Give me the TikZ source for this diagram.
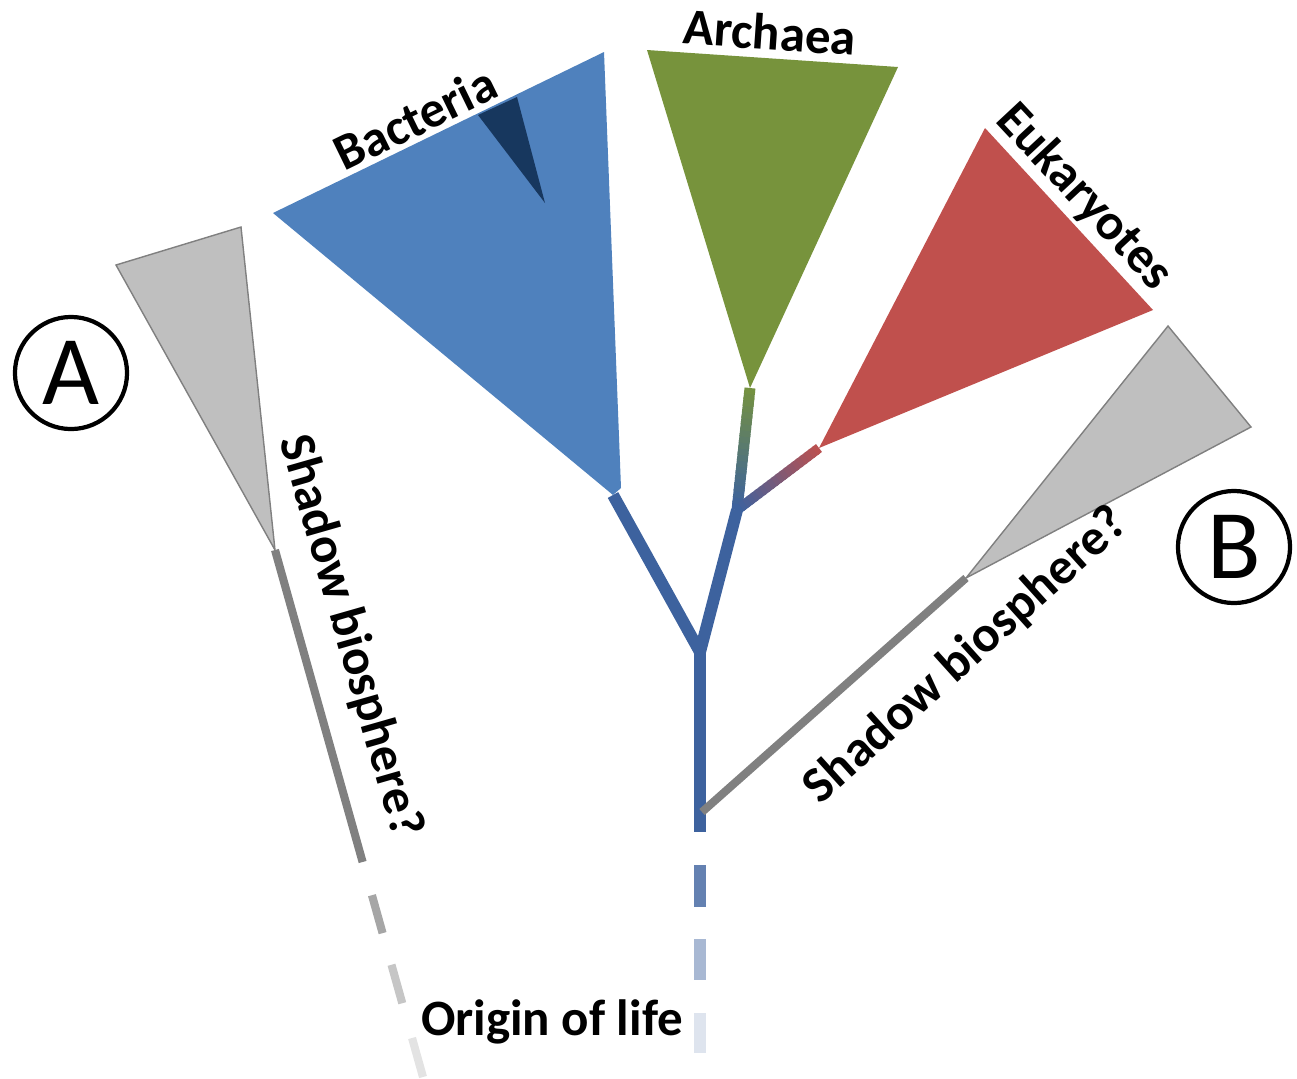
\documentclass[tikz,border=0pt]{standalone}
\usepackage{fontspec}
\setmainfont{Carlito}
\usepackage{tikz}
\usetikzlibrary{calc}

\definecolor{bactblue}{RGB}{79,129,189}
\definecolor{bactdark}{RGB}{23,55,94}
\definecolor{stemblue}{RGB}{61,98,158}
\definecolor{archgreen}{RGB}{119,147,60}
\definecolor{eukred}{RGB}{192,80,77}
\definecolor{shadowfill}{RGB}{191,191,191}
\definecolor{shadowline}{RGB}{128,128,128}

\begin{document}
\begin{tikzpicture}[x=0.01cm, y=-0.01cm]
        % Stem widths (pt)
        \pgfmathsetmacro{\stem}{3.4}
        \pgfmathsetmacro{\thin}{2.3}

        \tikzset{
            clade/.style={font=\bfseries\fontsize{14.5}{17}\selectfont},
            stemline/.style={stemblue, line width=\stem pt},
            shadowstem/.style={shadowline, line width=\thin pt},
            letter/.style={circle, draw, line width=1.2pt, minimum size=1.12cm,
            inner sep=0pt, font=\fontsize{28}{30}\selectfont},
        }

        \useasboundingbox (0,0) rectangle (1297,1078);

        % Scope with the tree points
        \begin{scope}
            \coordinate (BAC1) at (273,213);
            \coordinate (BAC2) at (604,52);
            \coordinate (BAC3) at (621,488);
            \coordinate (BACTIP) at (613,495);

            \coordinate (SUB1) at (478,115);
            \coordinate (SUB2) at (517,97);
            \coordinate (SUB3) at (545,203);

            \coordinate (ARC1) at (647,50);
            \coordinate (ARC2) at (898,67);
            \coordinate (ARCTIP) at (750,388);

            \coordinate (EUK1) at (985,128);
            \coordinate (EUK2) at (1153,310);
            \coordinate (EUKTIP) at (819,448);

            \coordinate (SPLIT) at (700,652);
            \coordinate (EUKNODE) at (737,510);
            \coordinate (ROOT) at (700,832);
            \coordinate (FOOT) at (700,1053);
            \coordinate (BFORK) at (702,812);

            \coordinate (SHA1) at (116,265);
            \coordinate (SHA2) at (241,227);
            \coordinate (SHATIP) at (275,550);
            \coordinate (SHAFOOT) at (423,1077);

            \coordinate (SHB1) at (1168,326);
            \coordinate (SHB2) at (1251,427);
            \coordinate (SHBTIP) at (966,578);
        \end{scope}

        % Blue stems
        \draw[stemline] (BACTIP) -- (SPLIT) -- (EUKNODE);
        \draw[stemline] (SPLIT) -- (ROOT);

        % Faded stem below the root
        \draw[stemblue!80!white, line width=\stem pt] (700,865) -- (700,907);
        \draw[stemblue!45!white, line width=\stem pt] (700,939) -- (700,980);
        \draw[stemblue!17!white, line width=\stem pt] (700,1013) -- (FOOT);

        % Blue to green and blue to red stems
        \foreach \i in {0,...,19} {
            \pgfmathsetmacro{\ta}{\i/20}
            \pgfmathsetmacro{\tb}{min(1,(\i+1.5)/20)}
            \pgfmathtruncatemacro{\mix}{100-5*\i}
            \draw[line width=3.1pt, color=stemblue!\mix!archgreen]
            ($(EUKNODE)!\ta!(ARCTIP)$) -- ($(EUKNODE)!\tb!(ARCTIP)$);
            \draw[line width=2.8pt, color=stemblue!\mix!eukred]
            ($(EUKNODE)!\ta!(EUKTIP)$) -- ($(EUKNODE)!\tb!(EUKTIP)$);
        }

        % Shadow stems
        \draw[shadowstem] (BFORK) -- (SHBTIP);
        \draw[shadowstem] (SHATIP) -- ($(SHATIP)!0.592!(SHAFOOT)$);
        \draw[shadowline!70!white, line width=\thin pt]
        ($(SHATIP)!0.655!(SHAFOOT)$) -- ($(SHATIP)!0.727!(SHAFOOT)$);
        \draw[shadowline!45!white, line width=\thin pt]
        ($(SHATIP)!0.787!(SHAFOOT)$) -- ($(SHATIP)!0.860!(SHAFOOT)$);
        \draw[shadowline!22!white, line width=\thin pt]
        ($(SHATIP)!0.926!(SHAFOOT)$) -- (SHAFOOT);

        % Clades
        \fill[bactblue] (BAC1) -- (BAC2) -- (BAC3) -- (BACTIP) -- cycle;
        \fill[bactdark] (SUB1) -- (SUB2) -- (SUB3) -- cycle;
        \fill[archgreen] (ARC1) -- (ARC2) -- (ARCTIP) -- cycle;
        \fill[eukred] (EUK1) -- (EUK2) -- (EUKTIP) -- cycle;

        \filldraw[fill=shadowfill, draw=shadowline, line width=0.4pt]
        (SHA1) -- (SHA2) -- (SHATIP) -- cycle;
        \filldraw[fill=shadowfill, draw=shadowline, line width=0.4pt]
        (SHB1) -- (SHB2) -- (SHBTIP) -- cycle;

        % Labels
        \node[clade, rotate=26] (bactlabel) at (415,118) {Bacteria};
        \node[clade, rotate=-4] (archlabel) at (770,32) {Archaea};
        \node[clade, rotate=-47] (euklabel) at (1084,197) {Eukaryotes};
        \node[clade, rotate=-74] (shadowlabelA) at (350,636) {Shadow biosphere?};
        \node[clade, rotate=42] (shadowlabelB) at (966,656) {Shadow biosphere?};
        \node[clade] (originlabel) at (552,1022) {Origin of life};

        \node[letter] (markA) at (71,373) {A};
        \node[letter] (markB) at (1234,547) {B};

\end{tikzpicture}
\end{document}
